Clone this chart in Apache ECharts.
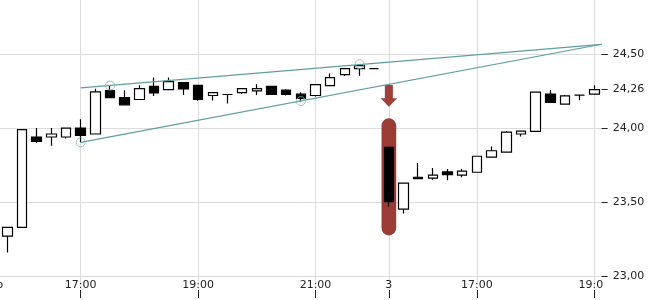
<!DOCTYPE html>
<html><head><meta charset="utf-8">
<script src="https://cdn.jsdelivr.net/npm/echarts@6/dist/echarts.min.js"></script>
<style>html,body{margin:0;padding:0;background:#fff}#c{width:650px;height:300px}</style>
</head><body><div id="c"></div>
<script>
// 15-minute bars, two sessions (day 2 and day 3)
const categories = [
 'd2 15:30','d2 15:45','d2 16:00','d2 16:15','d2 16:30','d2 16:45','d2 17:00','d2 17:15','d2 17:30','d2 17:45',
 'd2 18:00','d2 18:15','d2 18:30','d2 18:45','d2 19:00','d2 19:15','d2 19:30','d2 19:45','d2 20:00','d2 20:15',
 'd2 20:30','d2 20:45','d2 21:00','d2 21:15','d2 21:30','d2 21:45','d2 22:00',
 'd3 15:30','d3 15:45','d3 16:00','d3 16:15','d3 16:30','d3 16:45','d3 17:00','d3 17:15','d3 17:30','d3 17:45',
 'd3 18:00','d3 18:15','d3 18:30','d3 18:45','d3 19:00'];

const opens = [null,
 23.27, 23.33, 23.94, 23.94, 23.94, 24.00, 23.96, 24.253, 24.206, 24.193,
 24.282, 24.26, 24.307, 24.289, 24.22, 24.227, 24.24, 24.251, 24.282, 24.256,
 24.229, 24.22, 24.287, 24.361, 24.401, 24.401, 23.87, 23.453, 23.668, 23.662,
 23.704, 23.682, 23.702, 23.804, 23.838, 23.96, 23.978, 24.23, 24.162, 24.223, 24.229];
const closes = [null,
 23.33, 23.99, 23.91, 23.96, 24.00, 23.95, 24.245, 24.206, 24.157, 24.267,
 24.237, 24.314, 24.264, 24.193, 24.24, 24.227, 24.267, 24.267, 24.227, 24.227,
 24.20, 24.294, 24.341, 24.401, 24.422, 24.401, 23.504, 23.628, 23.659, 23.682,
 23.686, 23.709, 23.81, 23.847, 23.973, 23.98, 24.243, 24.174, 24.217, 24.223, 24.26];
const lows = [null,
 23.16, 23.33, 23.90, 23.88, 23.93, 23.905, 23.96, 24.206, 24.157, 24.193,
 24.217, 24.26, 24.224, 24.184, 24.186, 24.166, 24.231, 24.224, 24.227, 24.22,
 24.18, 24.213, 24.287, 24.352, 24.354, 24.401, 23.471, 23.424, 23.659, 23.652,
 23.648, 23.668, 23.702, 23.804, 23.838, 23.943, 23.978, 24.174, 24.162, 24.188, 24.229];
const highs = [null,
 23.33, 23.99, 24.00, 24.00, 24.00, 24.06, 24.265, 24.287, 24.256, 24.289,
 24.341, 24.341, 24.307, 24.289, 24.24, 24.227, 24.267, 24.296, 24.282, 24.262,
 24.242, 24.294, 24.368, 24.401, 24.432, 24.401, 23.87, 23.628, 23.765, 23.731,
 23.724, 23.724, 23.81, 23.876, 23.98, 23.98, 24.243, 24.257, 24.223, 24.223, 24.29];

const xTickIndex  = [0, 6, 14, 22, 27, 33, 41];
const xTickLabels = ['Do', '17:00', '19:00', '21:00', '3', '17:00', '19:00'];
const yTickMin = 23.00, yTickMax = 24.50, yTickStep = 0.50;   // price scale labels 23,00 … 24,50
const lastClose = closes[closes.length - 1];                    // 24,26 marker on the price scale

// trend lines (bar index, price) and touch points
const upperTrend = [[6, 24.272], [41.5, 24.566]];
const lowerTrend = [[6, 23.904], [41.5, 24.566]];
const touchPoints = [[6, 23.904], [8, 24.287], [21, 24.182], [25, 24.432]];
const highlightBar = 27;

const candleData = opens.map((o, i) => o == null ? ['-', '-', '-', '-'] : [o, closes[i], lows[i], highs[i]]);
const isTick = (i) => xTickIndex.indexOf(i) >= 0;
const fmtY = (v) => v.toFixed(2).replace('.', ',');

// layout of the main plot
const Y_MIN = 22.954, Y_MAX = 24.865;
const G_LEFT = -14.7, G_RIGHT = 48.35, G_TOP = 0, G_BOTTOM = 17, H = 300;
const PLOT_H = H - G_TOP - G_BOTTOM;
const yPix = (p) => G_TOP + (Y_MAX - p) / (Y_MAX - Y_MIN) * PLOT_H;

const chart = echarts.init(document.getElementById('c'), null, {renderer: 'canvas'});
const TEXT = '#222';
const GRID = '#dcdcdc';
const hiddenLine = () => ({show: true, onZero: false, lineStyle: {color: 'rgba(0,0,0,0)'}});
const scaleAxis = (gridIndex, min, max, interval, labelFilter) => ({
  type: 'value', gridIndex, position: 'right', min, max, interval,
  axisLine: hiddenLine(),
  axisTick: {show: true, inside: false, length: 6, lineStyle: {color: TEXT, width: 1}},
  axisLabel: {show: true, margin: 11, fontSize: 11, color: TEXT, fontFamily: 'DejaVu Sans',
              formatter: (v) => labelFilter(v) ? fmtY(v) : ''},
  splitLine: {show: false}
});
const hiddenX = (gridIndex) => ({type: 'value', gridIndex, min: 0, max: 1, show: false, axisLine: {onZero: false}});

chart.setOption({
  animation: false,
  textStyle: {fontFamily: 'DejaVu Sans'},
  grid: [
    {left: G_LEFT, right: G_RIGHT, top: G_TOP, bottom: G_BOTTOM, containLabel: false, outerBoundsMode: 'none'},
    // price-scale grids, aligned with the main plot's price mapping
    {left: G_LEFT, right: G_RIGHT, top: yPix(yTickMax), bottom: H - yPix(yTickMin), containLabel: false, outerBoundsMode: 'none'},
    {left: G_LEFT, right: G_RIGHT, top: yPix(yTickMax), bottom: H - yPix(lastClose), containLabel: false, outerBoundsMode: 'none'}
  ],
  xAxis: [
    {type: 'category', gridIndex: 0, data: categories, boundaryGap: true,
     axisLine: {show: false, onZero: false}, axisTick: {show: false},
     axisLabel: {interval: (i) => isTick(i),
                 formatter: (v, i) => i === 0 ? '{first|' + xTickLabels[0] + '}' : (xTickLabels[xTickIndex.indexOf(i)] || ''),
                 rich: {first: {padding: [0, 0, 0, 6], fontSize: 11, color: TEXT, fontFamily: 'DejaVu Sans'}},
                 margin: -3, fontSize: 11, color: TEXT, fontFamily: 'DejaVu Sans', hideOverlap: false},
     splitLine: {show: true, interval: (i) => isTick(i), alignWithLabel: true, lineStyle: {color: GRID, width: 1}}},
    {type: 'value', gridIndex: 0, min: -0.5, max: categories.length - 0.5, show: false, axisLine: {onZero: false}},
    {type: 'category', gridIndex: 0, data: categories, boundaryGap: true, position: 'bottom', offset: 7,
     axisLine: hiddenLine(),
     axisTick: {show: true, alignWithLabel: true, interval: (i) => isTick(i), length: 8, lineStyle: {color: TEXT, width: 1}},
     axisLabel: {show: false}, splitLine: {show: false}},
    hiddenX(1),
    hiddenX(2)
  ],
  yAxis: [
    {type: 'value', gridIndex: 0, position: 'right', min: Y_MIN, max: Y_MAX, minInterval: 0.5, maxInterval: 0.5,
     axisLine: {show: false, onZero: false}, axisTick: {show: false}, axisLabel: {show: false},
     splitLine: {show: true, showMinLine: false, showMaxLine: false, lineStyle: {color: GRID, width: 1}}},
    scaleAxis(1, yTickMin, yTickMax, yTickStep, () => true),
    scaleAxis(2, lastClose, yTickMax, yTickMax - lastClose, (v) => Math.abs(v - lastClose) < 1e-6)
  ],
  graphic: [
    // the time labels are clipped at the right edge of the plot area
    {type: 'rect', right: 38, bottom: 8, shape: {width: 9, height: 14}, style: {fill: '#fff'}, z: 100}
  ],
  series: [
    {type: 'custom', xAxisIndex: 0, yAxisIndex: 0, z: 1, silent: true,
     data: [[highlightBar, highs[highlightBar], lows[highlightBar]]],
     renderItem: (params, api) => {
       const x = api.value(0);
       const pTop = api.coord([x, api.value(1)]);
       const pBot = api.coord([x, api.value(2)]);
       const w = api.size([1, 0])[0];
       const pad = 29;
       const top = pTop[1] - pad, bot = pBot[1] + pad, cx = pTop[0];
       const tip = top - 11.6, shaftEnd = tip - 8.4, aTop = tip - 21.7;
       return {type: 'group', children: [
         {type: 'rect', shape: {x: cx - w / 2, y: top, width: w, height: bot - top, r: w / 2},
          style: {fill: '#9b3b36'}},
         {type: 'polygon', shape: {points: [[cx - 4, aTop], [cx + 4, aTop], [cx + 4, shaftEnd], [cx + 8.3, shaftEnd],
                                            [cx, tip], [cx - 8.3, shaftEnd], [cx - 4, shaftEnd]]},
          style: {fill: '#9f403b'}}
       ]};
     }},
    {type: 'candlestick', xAxisIndex: 0, yAxisIndex: 0, z: 2, barWidth: 10, data: candleData,
     itemStyle: {color: '#ffffff', color0: '#000000', borderColor: '#000000', borderColor0: '#000000', borderWidth: 1.2}},
    {type: 'line', xAxisIndex: 1, yAxisIndex: 0, z: 3, data: upperTrend, symbol: 'none', silent: true,
     lineStyle: {color: '#5f9ea0', width: 1.2}},
    {type: 'line', xAxisIndex: 1, yAxisIndex: 0, z: 3, data: lowerTrend, symbol: 'none', silent: true,
     lineStyle: {color: '#5f9ea0', width: 1.2}},
    {type: 'scatter', xAxisIndex: 1, yAxisIndex: 0, z: 4, data: touchPoints, symbol: 'circle', symbolSize: 9, silent: true,
     itemStyle: {color: 'rgba(0,0,0,0)', borderColor: '#7fb6b8', borderWidth: 1}}
  ]
});
</script></body></html>
